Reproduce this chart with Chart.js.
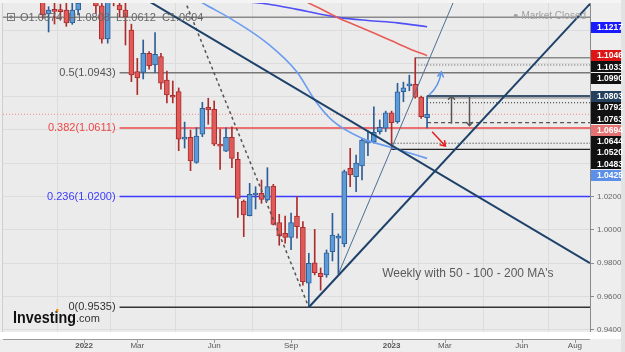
<!DOCTYPE html>
<html>
<head>
<meta charset="utf-8">
<script src="https://cdn.jsdelivr.net/npm/chart.js@4.4.0/dist/chart.umd.min.js"></script>
<style>
  html, body { margin: 0; padding: 0; background: #eeeeee; }
  #wrap { width: 625px; height: 352px; }
</style>
</head>
<body>
<div id="wrap"><canvas id="chart" width="625" height="352"></canvas></div>
<script>
// EUR/USD weekly candles, week 0 = first week of Jan 2022
const weeks  = [-7, -6, -5, -4, -3, -2, -1, 2, 3, 4, 5, 6, 7, 8, 9, 10, 11, 12, 13, 14, 15, 16, 17, 18, 19, 20,
  21, 22, 23, 24, 25, 26, 27, 28, 29, 30, 31, 32, 33, 34, 35, 36, 37, 38, 39, 40, 41, 42, 43, 44, 45, 46, 47, 48,
  49, 50, 51, 52, 53, 54, 55, 56, 57, 58];
const opens  = [1.1400, 1.1296, 1.1318, 1.1318, 1.1320, 1.1242, 1.1320, 1.1410, 1.1345, 1.1146, 1.1457, 1.1350,
  1.1320, 1.1200, 1.0950, 1.0946, 1.1060, 1.0990, 1.1040, 1.0900, 1.0804, 1.0830, 1.0545, 1.0556, 1.0405, 1.0574,
  1.0736, 1.0724, 1.0515, 1.0473, 1.0556, 1.0423, 1.0173, 1.0085, 1.0209, 1.0219, 1.0179, 1.0263, 1.0043, 0.9979,
  0.9955, 1.0083, 1.0015, 0.9679, 0.9802, 0.9739, 0.9729, 0.9868, 0.9950, 0.9915, 1.0369, 1.0319, 1.0383, 1.0520,
  1.0529, 1.0589, 1.0610, 1.0703, 1.0649, 1.0829, 1.0864, 1.0874, 1.0797, 1.0674];
const highs  = [1.1420, 1.1340, 1.1383, 1.1355, 1.1360, 1.1360, 1.1385, 1.1436, 1.1360, 1.1483, 1.1495, 1.1380,
  1.1365, 1.1235, 1.1030, 1.1140, 1.1070, 1.1184, 1.1060, 1.0954, 1.0894, 1.0852, 1.0647, 1.0599, 1.0613, 1.0766,
  1.0790, 1.0774, 1.0605, 1.0613, 1.0619, 1.0465, 1.0179, 1.0279, 1.0259, 1.0299, 1.0373, 1.0273, 1.0093, 1.0083,
  1.0100, 1.0199, 1.0049, 0.9859, 1.0003, 0.9771, 0.9879, 1.0099, 0.9975, 1.0359, 1.0489, 1.0449, 1.0545, 1.0594,
  1.0739, 1.0660, 1.0713, 1.0713, 1.0880, 1.0887, 1.0929, 1.1033, 1.0803, 1.0803];
const lows   = [1.1270, 1.1188, 1.1236, 1.1262, 1.1222, 1.1234, 1.1290, 1.1300, 1.1121, 1.1121, 1.1345, 1.1280,
  1.1110, 1.0890, 1.0812, 1.0906, 1.0965, 1.0944, 1.0844, 1.0762, 1.0762, 1.0475, 1.0491, 1.0355, 1.0399, 1.0559,
  1.0634, 1.0505, 1.0363, 1.0469, 1.0373, 1.0075, 0.9959, 1.0083, 1.0125, 1.0159, 1.0173, 1.0029, 0.9907, 0.9919,
  0.9880, 0.9949, 0.9668, 0.9535, 0.9729, 0.9638, 0.9715, 0.9813, 0.9735, 0.9898, 1.0259, 1.0229, 1.0299, 1.0445,
  1.0520, 1.0575, 1.0590, 1.0483, 1.0640, 1.0769, 1.0835, 1.0790, 1.0669, 1.0612];
const closes = [1.1290, 1.1320, 1.1312, 1.1310, 1.1242, 1.1320, 1.1362, 1.1345, 1.1145, 1.1457, 1.1410, 1.1320,
  1.1278, 1.0930, 1.0912, 1.1060, 1.0986, 1.1054, 1.0880, 1.0810, 1.0796, 1.0544, 1.0552, 1.0413, 1.0563, 1.0730,
  1.0720, 1.0515, 1.0503, 1.0556, 1.0429, 1.0189, 1.0089, 1.0213, 1.0219, 1.0183, 1.0259, 1.0033, 0.9963, 0.9955,
  1.0043, 1.0019, 0.9688, 0.9799, 0.9742, 0.9718, 0.9862, 0.9969, 0.9963, 1.0349, 1.0329, 1.0400, 1.0539, 1.0535,
  1.0586, 1.0616, 1.0703, 1.0643, 1.0829, 1.0853, 1.0874, 1.0796, 1.0679, 1.0694];

// moving averages (read at a few weeks)
const ma50Weeks  = [18, 20, 25, 31, 36, 39, 42, 47, 52, 58];
const ma50Vals   = [1.1410, 1.1364, 1.1264, 1.1120, 1.0948, 1.0780, 1.0656, 1.0550, 1.0494, 1.0429];
const ma100Weeks = [37, 38, 40, 43, 46, 49, 52, 55, 58];
const ma100Vals  = [1.1385, 1.1362, 1.1328, 1.1272, 1.1227, 1.1182, 1.1135, 1.1088, 1.1046];
const ma200Weeks = [24, 26, 31, 36, 43, 48, 53, 58];
const ma200Vals  = [1.1395, 1.1378, 1.1356, 1.1324, 1.1276, 1.1257, 1.1243, 1.1220];

// drawn trend lines: [startWeek, endWeek], [startValue, endValue]
const downTrendWeeks = [11, 85.55],  downTrendVals = [1.1372, 0.9800];
const upTrendWeeks   = [38, 85.55],  upTrendVals   = [0.9535, 1.1357];
const steepWeeks     = [43, 62.6],   steepVals     = [0.9735, 1.1380];
const dashedWeeks    = [17, 38],     dashedVals    = [1.1380, 0.9535];

// fibonacci retracement
const fibRatios = ['0.5', '0.382', '0.236', '0'];
const fibValues = [1.0943, 1.0611, 1.0200, 0.9535];
const fibStartWeek = 6;

// other horizontal levels
const levelValues = [1.1276, 1.0694, 1.1033, 1.0990, 1.0803, 1.0792, 1.0763, 1.0644, 1.0520, 1.0483];
const levelStarts = [-13.71, -13.71, 56, 56, 58, 58, 58, 58, 52, 52];

// price tags on the right axis
const tagValues = [1.1217, 1.1046, 1.1033, 1.0990, 1.0803, 1.0792, 1.0763, 1.0694, 1.0644, 1.0520, 1.0483, 1.0425];

// arrows: [x1, x2], [y1, y2]
const blueArrowWeeks = [58.3, 60.4], blueArrowVals = [1.0808, 1.0948];
const redArrowWeeks  = [58.85, 61.1], redArrowVals = [1.0589, 1.0503];
const upArrowWeek = 62.1,   upArrowVals   = [1.0638, 1.0803];
const downArrowWeek = 65.1, downArrowVals = [1.0803, 1.0625];

const xTickWeeks  = [0, 9, 22, 35, 52, 61, 74, 83];
const xTickLabels = ['2022', 'Mar', 'Jun', 'Sep', '2023', 'Mar', 'Jun', 'Aug'];
const yTickValues = [0.94, 0.96, 0.98, 1.00, 1.02, 1.04, 1.06, 1.08, 1.10, 1.12];

const X_MIN = -13.71, X_MAX = 85.55;
const Y_MIN = 0.93862, Y_MAX = 1.13622;

// styles
const FONT = '"Liberation Sans", Arial, sans-serif';
const UP_FILL = '#5d9bd8', UP_LINE = '#2c5f98';
const DN_FILL = '#e05a5a', DN_LINE = '#ad2d2d';
const fibColors = ['#777777', '#ee4646', '#3b3bff', '#333333'];
const levelColors = ['#8a8a8a', '#f08a8a', '#8a8a8a', '#555555', '#3b5570', '#777777', '#222222', '#555555', '#222222', '#222222'];
const levelDashes = [[], [1, 2], [], [1, 2], [], [], [1, 2], [4, 3], [1, 2], []];
const levelWidths = [1.5, 1, 1.5, 1, 2, 1, 1, 1.2, 1, 1.2];
const tagColors = ['#1a1aff', '#dd1515', '#111111', '#111111', '#23405e', '#111111', '#111111', '#e57373', '#111111', '#111111', '#111111', '#5b8fe8'];

const isUp = k => closes[k] >= opens[k];

function hline(value, start, color, width, dash) {
  return {
    type: 'line', data: [{ x: start, y: value }, { x: X_MAX, y: value }],
    borderColor: color, borderWidth: width, borderDash: dash, pointRadius: 0, order: 5, clip: 0
  };
}
function segment(ws, vs, color, width, dash) {
  return {
    type: 'line', data: ws.map((w, k) => ({ x: w, y: vs[k] })),
    borderColor: color, borderWidth: width, borderDash: dash || [], pointRadius: 0, order: 1, clip: 0
  };
}
function maLine(ws, vs, color) {
  const d = segment(ws, vs, color, 1.6);
  d.cubicInterpolationMode = 'monotone';
  return d;
}

const datasets = [];
datasets.push(segment(downTrendWeeks, downTrendVals, '#1d4169', 2));
datasets.push(segment(upTrendWeeks, upTrendVals, '#1d4169', 2));
datasets.push(segment(steepWeeks, steepVals, '#4d6f94', 1));
datasets.push(segment(dashedWeeks, dashedVals, '#555555', 1.5, [3, 3]));
datasets.push(maLine(ma50Weeks, ma50Vals, '#6a9cf0'));
datasets.push(maLine(ma100Weeks, ma100Vals, '#e85c57'));
datasets.push(maLine(ma200Weeks, ma200Vals, '#4f4ff5'));
datasets.push({
  type: 'bar', grouped: false, order: 2, clip: 0,
  data: weeks.map((w, k) => ({ x: w, y: [opens[k], closes[k]] })),
  backgroundColor: c => isUp(c.dataIndex) ? UP_FILL : DN_FILL,
  borderColor: c => isUp(c.dataIndex) ? UP_LINE : DN_LINE,
  borderWidth: 1, borderSkipped: false, barThickness: 5, minBarLength: 2
});
datasets.push({
  type: 'bar', grouped: false, order: 3, clip: 0,
  data: weeks.map((w, k) => ({ x: w, y: [lows[k], highs[k]] })),
  backgroundColor: c => isUp(c.dataIndex) ? UP_LINE : DN_LINE,
  borderWidth: 0, barThickness: 1
});
fibValues.forEach((v, k) => datasets.push(hline(v, fibStartWeek, fibColors[k], 1.5, [])));
levelValues.forEach((v, k) => datasets.push(hline(v, levelStarts[k], levelColors[k], levelWidths[k], levelDashes[k])));

function arrowHead(ctx, x, y, ang, len, spread) {
  ctx.beginPath();
  ctx.moveTo(x - len * Math.cos(ang - spread), y - len * Math.sin(ang - spread));
  ctx.lineTo(x, y);
  ctx.lineTo(x - len * Math.cos(ang + spread), y - len * Math.sin(ang + spread));
  ctx.stroke();
}

const decorations = {
  id: 'decorations',
  beforeDraw(chart) {
    const { ctx, chartArea: a } = chart;
    ctx.save();
    ctx.fillStyle = '#eeeeee';
    ctx.fillRect(0, 0, chart.width, chart.height);
    ctx.fillStyle = '#f4f4f4';
    ctx.fillRect(0, 0, chart.width, a.top);
    ctx.fillStyle = '#ebebeb';
    ctx.fillRect(a.left, a.top, a.right - a.left, a.bottom - a.top);
    ctx.restore();
  },
  afterDraw(chart) {
    const { ctx, chartArea: a } = chart;
    const xs = chart.scales.x, ys = chart.scales.y;
    const px = w => xs.getPixelForValue(w);
    const py = v => ys.getPixelForValue(v);
    ctx.save();

    // bottom strip and time axis line
    ctx.fillStyle = '#ffffff';
    ctx.fillRect(0, a.bottom, 621, 7);
    ctx.strokeStyle = '#9a9a9a';
    ctx.lineWidth = 1;
    ctx.beginPath();
    ctx.moveTo(a.left, a.bottom + 7.5);
    ctx.lineTo(a.right, a.bottom + 7.5);
    xTickWeeks.forEach(w => { ctx.moveTo(Math.round(px(w)) + 0.5, a.bottom + 7.5); ctx.lineTo(Math.round(px(w)) + 0.5, a.bottom + 11); });
    ctx.stroke();
    ctx.fillStyle = '#e2e2e2';
    ctx.fillRect(621, 0, 4, chart.height);

    // left border
    ctx.strokeStyle = '#cfcfcf';
    ctx.beginPath();
    ctx.moveTo(a.left - 0.5, a.top);
    ctx.lineTo(a.left - 0.5, a.bottom);
    ctx.stroke();

    // fib labels
    ctx.font = '11px ' + FONT;
    ctx.textAlign = 'right';
    ctx.textBaseline = 'middle';
    fibValues.forEach((v, k) => {
      ctx.fillStyle = k === 0 ? '#555555' : fibColors[k];
      ctx.fillText(fibRatios[k] + '(' + v.toFixed(4) + ')', px(fibStartWeek) - 4, py(v));
    });

    // arrows
    ctx.lineWidth = 1.5;
    ctx.strokeStyle = '#5b93ea';
    const bx1 = px(blueArrowWeeks[0]), by1 = py(blueArrowVals[0]);
    const bx2 = px(blueArrowWeeks[1]), by2 = py(blueArrowVals[1]);
    const cx = (bx1 + bx2) / 2 + 4, cy = (by1 + by2) / 2 + 3;
    ctx.beginPath();
    ctx.moveTo(bx1, by1);
    ctx.quadraticCurveTo(cx, cy, bx2, by2);
    ctx.stroke();
    arrowHead(ctx, bx2, by2, Math.atan2(by2 - cy, bx2 - cx), 6, 0.55);

    ctx.strokeStyle = '#e41e1e';
    const rx1 = px(redArrowWeeks[0]), ry1 = py(redArrowVals[0]);
    const rx2 = px(redArrowWeeks[1]), ry2 = py(redArrowVals[1]);
    ctx.beginPath();
    ctx.moveTo(rx1, ry1);
    ctx.lineTo(rx2, ry2);
    ctx.stroke();
    arrowHead(ctx, rx2, ry2, Math.atan2(ry2 - ry1, rx2 - rx1), 6, 0.6);

    ctx.strokeStyle = '#555555';
    [[upArrowWeek, upArrowVals], [downArrowWeek, downArrowVals]].forEach(([w, vs]) => {
      const x = Math.round(px(w)) + 0.5, y1 = py(vs[0]), y2 = py(vs[1]);
      ctx.beginPath();
      ctx.moveTo(x, y1);
      ctx.lineTo(x, y2);
      ctx.stroke();
      arrowHead(ctx, x, y2, y2 < y1 ? -Math.PI / 2 : Math.PI / 2, 5, 0.75);
    });

    // note
    ctx.font = '12px ' + FONT;
    ctx.textAlign = 'left';
    ctx.fillStyle = '#5a5a5a';
    ctx.fillText("Weekly with 50 - 100 - 200 MA's", px(50.4), py(0.97345));

    // legend line top-left
    ctx.strokeStyle = '#777777';
    ctx.lineWidth = 1;
    ctx.strokeRect(7.5, 13.5, 7, 7);
    ctx.beginPath();
    ctx.moveTo(9, 17); ctx.lineTo(13, 17);
    ctx.moveTo(11, 15); ctx.lineTo(11, 19);
    ctx.stroke();
    ctx.font = '11px ' + FONT;
    ctx.fillStyle = '#666666';
    const last = closes.length - 1;
    ctx.fillText('O' + opens[last].toFixed(4) + '  H' + highs[last].toFixed(4) + '  L' +
      lows[last].toFixed(4) + '  C' + closes[last].toFixed(4), 20, 17.5);

    // market closed
    ctx.font = '10px ' + FONT;
    ctx.fillStyle = '#a0a0a0';
    ctx.textAlign = 'right';
    ctx.fillText('\u25CF Market Closed', 586, 16);

    // logo
    ctx.textAlign = 'left';
    ctx.textBaseline = 'alphabetic';
    ctx.font = 'bold 17px ' + FONT;
    ctx.fillStyle = '#111111';
    const lw = ctx.measureText('Investing').width;
    ctx.save();
    ctx.translate(13, 323);
    ctx.scale(63 / lw, 1);
    ctx.fillText('Investing', 0, 0);
    ctx.restore();
    ctx.fillStyle = '#f39a1e';
    ctx.fillRect(56, 309, 2.5, 2.5);
    ctx.font = '11px ' + FONT;
    ctx.fillStyle = '#333333';
    ctx.fillText('.com', 76, 322);

    // price tags on right axis
    const order = tagValues.map((v, k) => k).sort((p, q) => tagValues[q] - tagValues[p]);
    let prev = -100;
    ctx.font = 'bold 8.5px ' + FONT;
    ctx.textBaseline = 'middle';
    order.forEach(k => {
      let y = py(tagValues[k]);
      if (y < prev + 11.3) y = prev + 11.3;
      prev = y;
      ctx.fillStyle = tagColors[k];
      ctx.fillRect(591, Math.round(y - 5.5), 30, 11);
      ctx.fillStyle = '#ffffff';
      ctx.fillText(tagValues[k].toFixed(4), 597, y + 0.5);
    });
    ctx.restore();
  }
};

new Chart(document.getElementById('chart'), {
  type: 'bar',
  data: { datasets },
  plugins: [decorations],
  options: {
    responsive: false,
    animation: false,
    events: [],
    layout: { padding: { left: 3, top: 3, right: 0, bottom: 0 } },
    plugins: { legend: { display: false }, tooltip: { enabled: false } },
    scales: {
      x: {
        type: 'linear', min: X_MIN, max: X_MAX, offset: false,
        afterBuildTicks: s => { s.ticks = xTickWeeks.map(w => ({ value: w })); },
        afterFit: s => { s.height = 20; s.paddingLeft = 0; s.paddingRight = 0; },
        grid: { color: '#dcdcdc', lineWidth: 1, drawTicks: false },
        border: { display: false },
        ticks: {
          padding: 9, color: '#555555', maxRotation: 0, autoSkip: false,
          font: c => ({ family: FONT, size: 8, weight: /^\d/.test(xTickLabels[c.index] || '') ? 'bold' : 'normal' }),
          callback: (v, i) => xTickLabels[i]
        }
      },
      y: {
        type: 'linear', position: 'right', min: Y_MIN, max: Y_MAX, beginAtZero: false,
        afterBuildTicks: s => { s.ticks = yTickValues.map(v => ({ value: v })); },
        afterFit: s => { s.width = 35; s.paddingTop = 0; s.paddingBottom = 0; },
        grid: { color: '#dcdcdc', lineWidth: 1, drawTicks: true, tickLength: 4, tickColor: '#8a8a8a' },
        border: { display: true, color: '#8a8a8a', width: 1 },
        ticks: {
          padding: 3, color: '#666666', font: { family: FONT, size: 8 },
          callback: v => v <= 1.021 ? Number(v).toFixed(4) : ''
        }
      }
    }
  }
});
</script>
</body>
</html>
